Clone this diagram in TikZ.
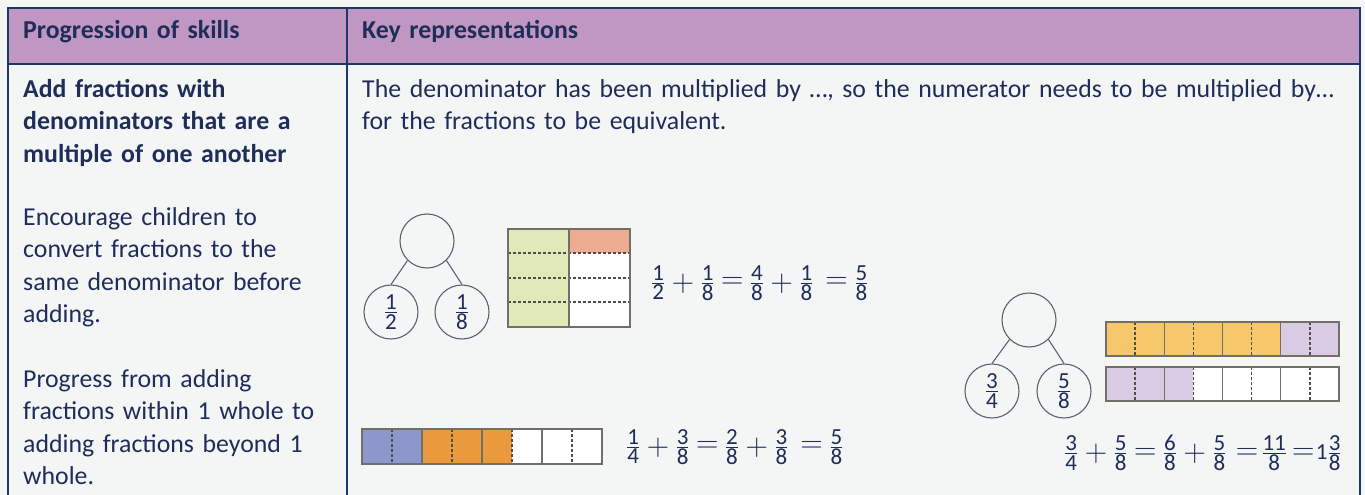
\RequirePackage{fix-cm}
\documentclass[tikz,border=0pt]{standalone}
\usepackage{amsmath}
\usepackage{graphicx}
\usepackage[no-math]{fontspec}
\setmainfont{Carlito}
\definecolor{ink}{HTML}{1F2D5A}
\definecolor{rule}{HTML}{1F3768}
\definecolor{head}{HTML}{C097C3}
\definecolor{paper}{HTML}{F4F6F6}
\definecolor{ring}{HTML}{5A6270}
\definecolor{pale}{HTML}{E2E9B9}
\definecolor{salmon}{HTML}{EDAC92}
\definecolor{bluish}{HTML}{8E97CC}
\definecolor{amber}{HTML}{EA9A3C}
\definecolor{gold}{HTML}{F6C76B}
\definecolor{lilac}{HTML}{DACBE4}
\definecolor{edge}{HTML}{707068}
\newcommand\fr[2]{\genfrac{}{}{1pt}{}{\hbox{#1}}{\hbox{#2}}}
\newcommand\opx[3]{\mathord{\hspace{#2}\vcenter{\hbox{\scalebox{1.35}{$\mathbf{#1}$}}}\hspace{#3}}}
\newcommand\pl{\opx{+}{6.5pt}{6.5pt}}
\newcommand\eq{\opx{=}{6.5pt}{6.5pt}}
\tikzset{
  txt/.style={anchor=base west, inner sep=0, text=ink, text width=#1, align=left,
    font=\fontsize{25.8}{32.5}\selectfont},
  txt/.default=330pt,
  sum/.style={anchor=west, inner sep=0, text=ink, font=\fontsize{23}{27}\selectfont},
  part/.style={circle, draw=ring, line width=1.1pt, minimum size=54pt, inner sep=0,
    text=ink, font=\fontsize{23}{27}\selectfont},
  cut/.style={draw=edge!70!black, line width=1.4pt, dash pattern=on 2.6pt off 2.4pt},
  bar/.style={draw=edge, line width=1.4pt}
}
\begin{document}
\begin{tikzpicture}[x=1pt,y=-1pt]
  \useasboundingbox (0,0) rectangle (1365,495);
  \fill[paper] (0,0) rectangle (1365,495);

  % table
  \fill[head] (8,8) rectangle (1360,64);
  \draw[rule, line width=2.2pt] (8,495) -- (8,8) -- (1360,8) -- (1360,495);
  \draw[rule, line width=2.2pt] (8,64) -- (1360,64);
  \draw[rule, line width=2.2pt] (347,8) -- (347,495);

  \node[txt] (h1) at (23,39) {\bfseries Progression of skills};
  \node[txt=900pt] (h2) at (362,39) {\bfseries Key representations};

  \node[txt] (s1) at (23,97) {\bfseries Add fractions with\\ denominators that are a\\ multiple of one another};
  \node[txt] (s2) at (23,225) {Encourage children to\\ convert fractions to the\\ same denominator before\\ adding.};
  \node[txt] (s3) at (23,387) {Progress from adding\\ fractions within 1 whole to\\ adding fractions beyond 1\\ whole.};
  \node[txt=990pt] (k1) at (362,97) {The denominator has been multiplied by \dots, so the numerator needs to be multiplied by\dots\\ for the fractions to be equivalent.};

  % halves and eighths
  \node[part] (w1) at (427,241) {};
  \node[part] (a1) at (391,312) {$\fr{1}{2}$};
  \node[part] (b1) at (462,312) {$\fr{1}{8}$};
  \draw[ring, line width=1.1pt] (w1.225) -- (a1.north);
  \draw[ring, line width=1.1pt] (w1.315) -- (b1.north);

  \fill[pale] (508,229) rectangle (569,327);
  \fill[salmon] (569,229) rectangle (630,253);
  \fill[white] (569,253) rectangle (630,327);
  \foreach \y in {253,278,302}{
    \draw[cut] (508,\y) -- (630,\y);
  }
  \draw[bar] (569,229) -- (569,327);
  \draw[bar] (508,229) rectangle (630,327);
  \node[sum] (e1) at (651,283) {$\fr{1}{2} \pl \fr{1}{8} \eq \fr{4}{8} \pl \fr{1}{8} \opx{=}{12pt}{6.5pt} \fr{5}{8}$};

  % quarters and eighths in one whole
  \foreach \i/\c in {0/bluish,1/bluish,2/amber,3/amber,4/amber,5/white,6/white,7/white}{
    \fill[\c] (362+30*\i,429) rectangle (392+30*\i,464);
  }
  \foreach \i in {0,1,2,3}{
    \draw[cut] (392+60*\i,429) -- (392+60*\i,464);
  }
  \foreach \i in {1,2,3}{
    \draw[bar] (362+60*\i,429) -- (362+60*\i,464);
  }
  \draw[bar] (362,429) rectangle (602,464);
  \node[sum] (e2) at (626,447) {$\fr{1}{4} \pl \fr{3}{8} \eq \fr{2}{8} \pl \fr{3}{8} \opx{=}{12pt}{6.5pt} \fr{5}{8}$};

  % beyond one whole
  \node[part] (w3) at (1029,320) {};
  \node[part] (a3) at (992,391) {$\fr{3}{4}$};
  \node[part] (b3) at (1064,391) {$\fr{5}{8}$};
  \draw[ring, line width=1.1pt] (w3.225) -- (a3.north);
  \draw[ring, line width=1.1pt] (w3.315) -- (b3.north);

  \foreach \i/\c/\d in {0/gold/lilac,1/gold/lilac,2/gold/lilac,3/gold/white,
                        4/gold/white,5/gold/white,6/lilac/white,7/lilac/white}{
    \fill[\c] (1106+29.125*\i,322) rectangle (1135.125+29.125*\i,356);
    \fill[\d] (1106+29.125*\i,367) rectangle (1135.125+29.125*\i,401);
  }
  \foreach \y in {322,367}{
    \foreach \i in {0,1,2,3}{
      \draw[cut] (1135.125+58.25*\i,\y) -- (1135.125+58.25*\i,\y+34);
    }
    \foreach \i in {1,2,3}{
      \draw[bar] (1106+58.25*\i,\y) -- (1106+58.25*\i,\y+34);
    }
    \draw[bar] (1106,\y) rectangle (1339,\y+34);
  }
  \node[sum] (e3) at (1064,453) {$\fr{3}{4} \pl \fr{5}{8} \eq \fr{6}{8} \pl \fr{5}{8} \opx{=}{9.5pt}{3pt} \fr{11}{8} \opx{=}{5pt}{1.5pt} \hbox{1}\fr{3}{8}$};
\end{tikzpicture}
\end{document}
